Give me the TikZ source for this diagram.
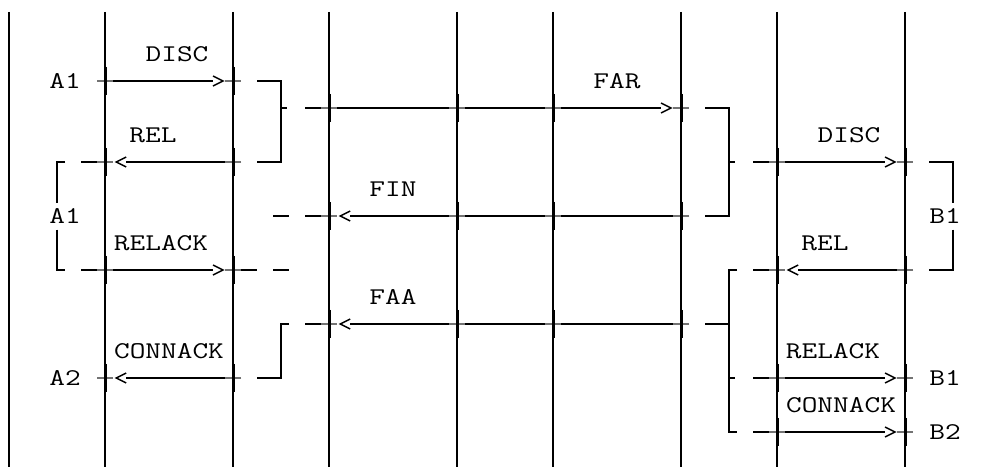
\documentclass[tikz,border=0pt]{standalone}
\usepackage{graphicx}
\newcommand{\widetxt}[1]{\scalebox{1.27}[1]{#1}}
\begin{document}
\begin{tikzpicture}[x=16pt,y=-27pt,
  life/.style={line width=1.1pt},
  wire/.style={line width=2pt, line join=miter},
  crossbar/.style={line width=2pt, black!55},
  tickmark/.style={line width=3pt},
  lbl/.style={font=\ttfamily\fontsize{24}{24}\selectfont, inner sep=0pt},
  rtip/.pic={\draw[line width=1.5pt, line join=miter] (0,5pt) -- (10pt,0) -- (0,-5pt);},
  ltip/.pic={\draw[line width=1.5pt, line join=miter] (0,5pt) -- (-10pt,0) -- (0,-5pt);}
]
\path[use as bounding box] (-0.5625,0) rectangle (61.375,17.2963);

% lifelines
\foreach \c [count=\i] in {0,6,14,20,28,34,42,48,56}{
  \coordinate (top\i) at (\c,0.444);
  \coordinate (bot\i) at (\c,17.3);
  \draw[life] (top\i) -- (bot\i);
}

% labels
\node[lbl] (discA) at (10.5,2) {\widetxt{DISC}};
\node[lbl] (a1top) at (3.5,3) {\widetxt{A1}};
\node[lbl] (far) at (38,3) {\widetxt{FAR}};
\node[lbl] (relA) at (9,5) {\widetxt{REL}};
\node[lbl] (discB) at (52.5,5) {\widetxt{DISC}};
\node[lbl] (fin) at (24,7) {\widetxt{FIN}};
\node[lbl] (a1mid) at (3.5,8) {\widetxt{A1}};
\node[lbl] (b1mid) at (58.5,8) {\widetxt{B1}};
\node[lbl] (relackA) at (9.5,9) {\widetxt{RELACK}};
\node[lbl] (relB) at (51,9) {\widetxt{REL}};
\node[lbl] (faa) at (24,11) {\widetxt{FAA}};
\node[lbl] (connackA) at (10,13) {\widetxt{CONNACK}};
\node[lbl] (relackB) at (51.5,13) {\widetxt{RELACK}};
\node[lbl] (a2) at (3.5,14) {\widetxt{A2}};
\node[lbl] (b1low) at (58.5,14) {\widetxt{B1}};
\node[lbl] (connackB) at (52,15) {\widetxt{CONNACK}};
\node[lbl] (b2) at (58.5,16) {\widetxt{B2}};

% message connector end points
\coordinate (m1s) at (5.5,3);   \coordinate (m1e) at (12.75,3);
\coordinate (m2s) at (18.5,4);  \coordinate (m2e) at (40.75,4);
\coordinate (m3s) at (14.5,6);  \coordinate (m3e) at (7.325,6);
\coordinate (m4s) at (46.5,6);  \coordinate (m4e) at (54.75,6);
\coordinate (m5s) at (42.5,8);  \coordinate (m5e) at (21.325,8);
\coordinate (m6s) at (4.5,10);  \coordinate (m6e) at (12.75,10);
\coordinate (m7s) at (56.5,10); \coordinate (m7e) at (49.325,10);
\coordinate (m8s) at (42.5,12); \coordinate (m8e) at (21.325,12);
\coordinate (m9s) at (14.5,14); \coordinate (m9e) at (7.325,14);
\coordinate (m10s) at (46.5,14); \coordinate (m10e) at (54.75,14);
\coordinate (m11s) at (46.5,16); \coordinate (m11e) at (54.75,16);

% messages
\draw[wire] (m1s) -- (m1e) pic{rtip};
\draw[wire] (m2s) -- (m2e) pic{rtip};
\draw[wire] (m3s) -- (m3e) pic{ltip};
\draw[wire] (m4s) -- (m4e) pic{rtip};
\draw[wire] (m5s) -- (m5e) pic{ltip};
\draw[wire] (m6s) -- (m6e) pic{rtip};
\draw[wire] (m7s) -- (m7e) pic{ltip};
\draw[wire] (m8s) -- (m8e) pic{ltip};
\draw[wire] (m9s) -- (m9e) pic{ltip};
\draw[wire] (m10s) -- (m10e) pic{rtip};
\draw[wire] (m11s) -- (m11e) pic{rtip};

% dashes beside the crossings
\draw[wire] (4.5,6) -- (5.5,6);
\draw[wire] (14.5,10) -- (15.5,10);
\draw[wire] (18.5,8) -- (19.5,8);
\draw[wire] (18.5,12) -- (19.5,12);
\draw[wire] (46.5,10) -- (47.5,10);

% brackets and dashes
\draw[wire] (15.5,3) -- (17,3) -- (17,6) -- (15.5,6);
\draw[wire] (17,4) -- (17.4,4);
\draw[wire] (43.5,4) -- (45,4) -- (45,8) -- (43.5,8);
\draw[wire] (45,6) -- (45.4,6);
\draw[wire] (57.5,6) -- (59,6) -- (59,7.5);
\draw[wire] (59,8.5) -- (59,10) -- (57.5,10);
\draw[wire] (3.5,6) -- (3,6) -- (3,7.5);
\draw[wire] (3,8.5) -- (3,10) -- (3.5,10);
\draw[wire] (16.5,8) -- (17.5,8);
\draw[wire] (16.5,10) -- (17.5,10);
\draw[wire] (45.5,10) -- (45,10) -- (45,16) -- (45.5,16);
\draw[wire] (43.5,12) -- (45,12);
\draw[wire] (45,14) -- (45.4,14);
\draw[wire] (17.5,12) -- (17,12) -- (17,14) -- (15.5,14);

% crossings (+) on the lifelines
\foreach \c/\r in {6/3,14/3, 20/4,28/4,34/4,42/4, 6/6,14/6,48/6,56/6,
  20/8,28/8,34/8,42/8, 6/10,14/10,48/10,56/10, 20/12,28/12,34/12,42/12,
  6/14,14/14,48/14,56/14, 48/16,56/16}{
  \draw[crossbar] (\c-0.47,\r) -- (\c+0.47,\r);
  \draw[tickmark] ([xshift=0.6pt]\c,\r-0.52) -- ([xshift=0.6pt]\c,\r+0.52);
}
\end{tikzpicture}
\end{document}
